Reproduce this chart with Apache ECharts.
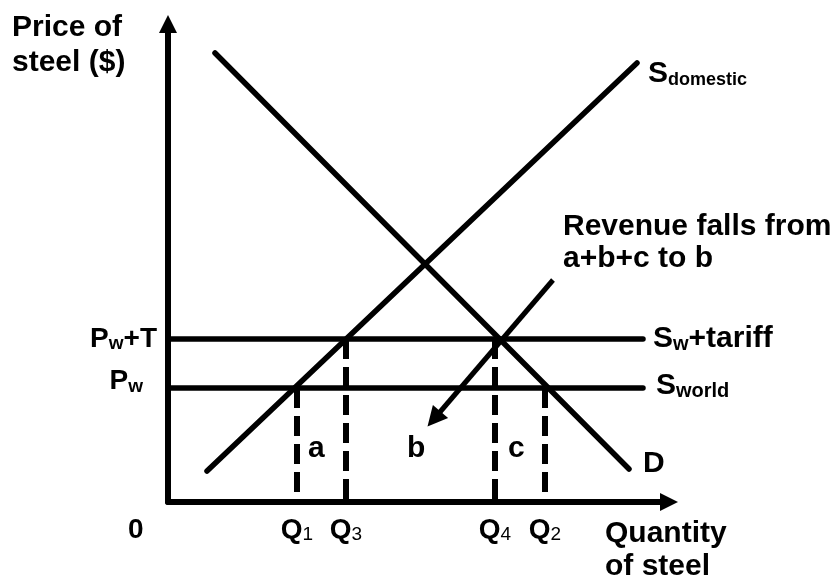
<!DOCTYPE html>
<html>
<head>
<meta charset="utf-8">
<title>Tariff on steel</title>
<script src="https://cdn.jsdelivr.net/npm/echarts@6/dist/echarts.min.js"></script>
<style>
  html, body { margin: 0; padding: 0; background: #fff; }
  #chart { width: 840px; height: 583px; }
</style>
</head>
<body>
<div id="chart"></div>
<script>
// quantity / price units (0 = origin of the axes)
var xMax = 501;
var yMax = 478;

var supplyDomestic = [[39, 31], [469, 439]];
var demand = [[47, 449], [461, 33]];

var worldPrice = 114;
var tariffPrice = 163;
var priceLineEnd = 475;

var qValues = [129, 178, 327, 377];
var qSubs = ['1', '3', '4', '2'];
var qTops = [114, 163, 163, 114];

var revenueArrow = [[385, 222], [266, 83]];

var FONT = '"Liberation Sans", Arial, sans-serif';

var chart = echarts.init(document.getElementById('chart'));

// rich styles: big letter + subscript
function richSet(big, small) {
    return {
        m: { fontFamily: FONT, fontWeight: 'bold', fontSize: big, lineHeight: big, color: '#000' },
        s: { fontFamily: FONT, fontWeight: 'bold', fontSize: small, lineHeight: Math.round(small * 0.85), verticalAlign: 'bottom', color: '#000' },
        n: { fontFamily: FONT, fontWeight: 'normal', fontSize: small, lineHeight: Math.round(small * 0.85), verticalAlign: 'bottom', color: '#000' },
        // Pw sits a bit above its line: taller line box, text hung from the top
        mt: { fontFamily: FONT, fontWeight: 'bold', fontSize: big, lineHeight: big, verticalAlign: 'top', color: '#000' },
        st: { fontFamily: FONT, fontWeight: 'bold', fontSize: small, lineHeight: 30, padding: [10, 0, 0, 0], verticalAlign: 'top', color: '#000' },
        padt: { width: 14, height: 42, lineHeight: 42 }
    };
}

var lineStyleSolid = { color: '#000', width: 5.5, cap: 'round' };

var dashedSeries = qValues.map(function (q, i) {
    return {
        name: 'Q' + qSubs[i],
        type: 'line',
        silent: true,
        symbol: 'none',
        lineStyle: { color: '#000', width: 6, type: [20, 8], cap: 'butt' },
        data: [[q, qTops[i]], [q, 0]]
    };
});

option = {
    animation: false,
    backgroundColor: '#fff',
    grid: {
        left: 168,
        right: 171,
        top: 24,
        bottom: 81,
        outerBoundsMode: 'none'
    },
    xAxis: {
        type: 'value',
        min: 0,
        max: xMax,
        splitLine: { show: false },
        axisTick: { show: false },
        axisLine: {
            lineStyle: { color: '#000', width: 6 },
            symbol: ['none', 'triangle'],
            symbolSize: [18, 18]
        },
        axisLabel: {
            customValues: qValues,
            margin: 14,
            formatter: function (v) {
                var i = qValues.indexOf(v);
                return '{m|Q}{n|' + qSubs[i] + '}';
            },
            rich: richSet(28, 19)
        }
    },
    yAxis: {
        type: 'value',
        min: 0,
        max: yMax,
        splitLine: { show: false },
        axisTick: { show: false },
        axisLine: {
            lineStyle: { color: '#000', width: 6 },
            symbol: ['none', 'triangle'],
            symbolSize: [18, 18]
        },
        axisLabel: {
            customValues: [worldPrice, tariffPrice],
            margin: 11,
            formatter: function (v) {
                if (v === tariffPrice) return '{m|P}{s|w}{m|+T}';
                return '{mt|P}{st|w}{padt|}';
            },
            rich: richSet(28, 19)
        }
    },
    series: [
        {
            name: 'Sdomestic',
            type: 'line',
            silent: true,
            symbol: 'none',
            lineStyle: lineStyleSolid,
            data: supplyDomestic
        },
        {
            name: 'D',
            type: 'line',
            silent: true,
            symbol: 'none',
            lineStyle: lineStyleSolid,
            data: demand
        },
        {
            name: 'Sw+tariff',
            type: 'line',
            silent: true,
            symbol: 'none',
            lineStyle: lineStyleSolid,
            data: [[0, tariffPrice], [priceLineEnd, tariffPrice]]
        },
        {
            name: 'Sworld',
            type: 'line',
            silent: true,
            symbol: 'none',
            lineStyle: lineStyleSolid,
            data: [[0, worldPrice], [priceLineEnd, worldPrice]]
        }
    ].concat(dashedSeries).concat([
        {
            name: 'revenue',
            type: 'lines',
            coordinateSystem: 'cartesian2d',
            silent: true,
            symbol: ['none', 'triangle'],
            symbolSize: [20, 20],
            lineStyle: { color: '#000', width: 5, opacity: 1 },
            data: [{ coords: revenueArrow }]
        }
    ]),
    graphic: [
        {
            type: 'text', left: 12, top: 10,
            style: { text: 'Price of\nsteel ($)', font: 'bold 30px ' + FONT, lineHeight: 35, fill: '#000' }
        },
        {
            type: 'text', x: 648, y: 74,
            style: { text: '{m|S}{s|domestic}', rich: richSet(30, 18), verticalAlign: 'middle', textVerticalAlign: 'middle' }
        },
        {
            type: 'text', x: 563, y: 243,
            style: { text: 'Revenue falls from\na+b+c to b', font: 'bold 30px ' + FONT, lineHeight: 32, fill: '#000', verticalAlign: 'middle', textVerticalAlign: 'middle' }
        },
        {
            type: 'text', x: 653, y: 339,
            style: { text: '{m|S}{s|w}{m|+tariff}', rich: richSet(30, 20), verticalAlign: 'middle', textVerticalAlign: 'middle' }
        },
        {
            type: 'text', x: 656, y: 386,
            style: { text: '{m|S}{s|world}', rich: richSet(30, 20), verticalAlign: 'middle', textVerticalAlign: 'middle' }
        },
        {
            type: 'text', x: 643, y: 464,
            style: { text: 'D', font: 'bold 30px ' + FONT, fill: '#000', verticalAlign: 'middle', textVerticalAlign: 'middle' }
        },
        {
            type: 'text', x: 128, y: 530,
            style: { text: '0', font: 'bold 28px ' + FONT, fill: '#000', verticalAlign: 'middle', textVerticalAlign: 'middle' }
        },
        {
            type: 'text', x: 605, y: 550,
            style: { text: 'Quantity\nof steel', font: 'bold 30px ' + FONT, lineHeight: 33, fill: '#000', verticalAlign: 'middle', textVerticalAlign: 'middle' }
        },
        {
            type: 'text', x: 308, y: 449,
            style: { text: 'a', font: 'bold 30px ' + FONT, fill: '#000', verticalAlign: 'middle', textVerticalAlign: 'middle' }
        },
        {
            type: 'text', x: 407, y: 449,
            style: { text: 'b', font: 'bold 30px ' + FONT, fill: '#000', verticalAlign: 'middle', textVerticalAlign: 'middle' }
        },
        {
            type: 'text', x: 508, y: 449,
            style: { text: 'c', font: 'bold 30px ' + FONT, fill: '#000', verticalAlign: 'middle', textVerticalAlign: 'middle' }
        }
    ]
};

chart.setOption(option);
</script>
</body>
</html>
